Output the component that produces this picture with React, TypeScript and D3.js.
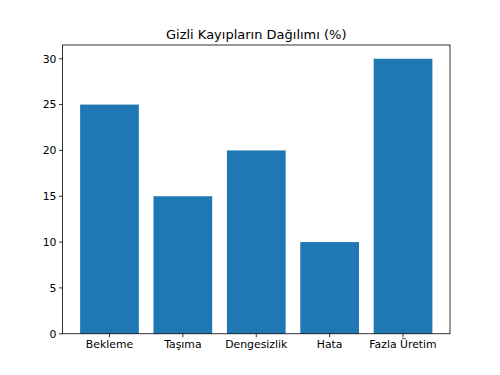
import React from "react";
import * as d3 from "d3";

const categories = ["Bekleme", "Taşıma", "Dengesizlik", "Hata", "Fazla Üretim"];
const values = [25, 15, 20, 10, 30];
const yTicks = [0, 5, 10, 15, 20, 25, 30];
const title = "Gizli Kayıpların Dağılımı (%)";

export default function App() {
  const W = 500, H = 375;
  const left = 62.5, right = 450, top = 45, bottom = 333.75;
  const n = categories.length;
  const x = d3.scaleLinear().domain([-0.64, n - 1 + 0.64]).range([left, right]);
  const y = d3.scaleLinear().domain([0, 31.5]).range([bottom, top]);
  const font = "'DejaVu Sans', sans-serif";
  const fs = 10.85;
  return (
    <svg width={W} height={H} style={{ position: "absolute", left: 0, top: 0, background: "#fff" }} fontFamily={font}>
      <rect x={0} y={0} width={W} height={H} fill="#fff" />
      {values.map((v, i) => (
        <rect key={i} x={x(i - 0.4)} y={y(v)} width={x(i + 0.4) - x(i - 0.4)} height={y(0) - y(v)} fill="#1f77b4" />
      ))}
      <rect x={left} y={top} width={right - left} height={bottom - top} fill="none" stroke="#000" strokeWidth={0.8} />
      {yTicks.map((t) => (
        <g key={t}>
          <line x1={left - 3.5} x2={left} y1={y(t)} y2={y(t)} stroke="#000" strokeWidth={0.8} />
          <text x={left - 6} y={y(t)} dy="0.35em" textAnchor="end" fontSize={fs} fill="#000">{t}</text>
        </g>
      ))}
      {categories.map((c, i) => (
        <g key={c}>
          <line x1={x(i)} x2={x(i)} y1={bottom} y2={bottom + 3.5} stroke="#000" strokeWidth={0.8} />
          <text x={x(i)} y={bottom + 6} dy="0.8em" textAnchor="middle" fontSize={fs} fill="#000">{c}</text>
        </g>
      ))}
      <text x={(left + right) / 2} y={top - 6} textAnchor="middle" fontSize={13} fill="#000">{title}</text>
    </svg>
  );
}
